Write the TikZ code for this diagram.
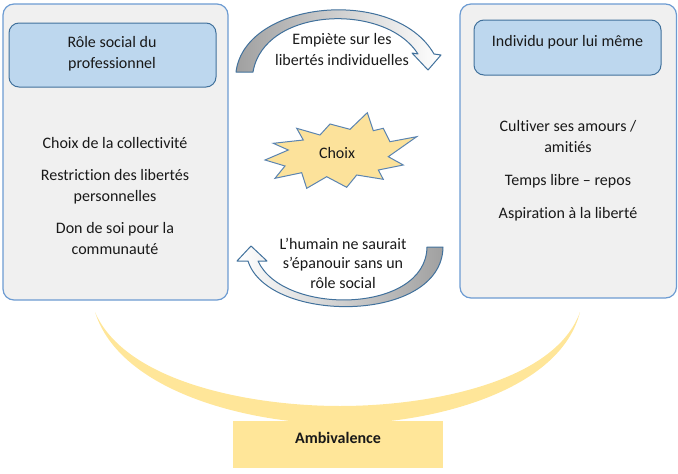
\documentclass[tikz,border=0pt]{standalone}
\usepackage{fontspec}
\setmainfont{Carlito}[Ligatures=NoCommon]
\usetikzlibrary{calc}
\definecolor{boxfill}{HTML}{F0F0F0}
\definecolor{boxdraw}{HTML}{6C9BD2}
\definecolor{headfill}{HTML}{BDD7EE}
\definecolor{headdraw}{HTML}{41719C}
\definecolor{arrdraw}{HTML}{41719C}
\definecolor{arrgray}{HTML}{A0A0A0}
\definecolor{starfill}{HTML}{FCE29B}
\definecolor{stardraw}{HTML}{5B84B1}
\definecolor{ambyellow}{HTML}{FFE699}
\tikzset{
  txt/.style={font=\fontsize{16}{21}\selectfont, align=center, inner sep=0pt, text=black!90},
  outerbox/.style={draw=boxdraw, fill=boxfill, line width=1.2pt, rounded corners=11pt},
  headbox/.style={draw=headdraw, fill=headfill, line width=1pt, rounded corners=10pt},
  curvarrow/.style={draw=arrdraw, line width=1pt, line join=round},
}
\begin{document}
\begin{tikzpicture}[x=1pt,y=-1pt]
\useasboundingbox (0,0) rectangle (678,474);
% outer boxes
\draw[outerbox] (3,4) rectangle (228,300);
\draw[outerbox] (460,4) rectangle (676.5,298);
% headers
\draw[headbox] (9,23) rectangle (216,87);
\draw[headbox] (474,20) rectangle (661,75);
\node[txt] (hleft) at (112,54) {Rôle social du\\professionnel};
\node[txt] (hright) at (567.5,42) {Individu pour lui même};
% body texts
\node[txt] (bleft) at (115,196) {Choix de la collectivité\\[11pt]Restriction des libertés\\personnelles\\[11pt]Don de soi pour la\\communauté};
\node[txt] (bright) at (568,171) {Cultiver ses amours /\\amitiés\\[12pt]Temps libre – repos\\[12pt]Aspiration à la liberté};
% top curved arrow
\draw[curvarrow, left color=arrgray, right color=white]
  (236,72) .. controls (245,0) and (395,-14) .. (434,54)
  -- (441,55) -- (428,70) -- (412,53) -- (418,54)
  .. controls (385,2) and (264,7) .. (253,72) -- cycle;
\node[txt] (ttop) at (342,50) {Empiète sur les\\libertés individuelles};
% bottom curved arrow
\draw[curvarrow, right color=arrgray, left color=white]
  (443,247) .. controls (442,324) and (268,324) .. (248,261)
  -- (237,261) -- (251,246) -- (267,261) -- (258,261)
  .. controls (283,316) and (426,314) .. (427,247) -- cycle;
\node[txt, font=\fontsize{16}{19.5}\selectfont] (tbot) at (343,263) {L’humain ne saurait\\s’épanouir sans un\\rôle social};
% star
\draw[draw=stardraw, fill=starfill, line width=1pt, line join=miter]
  (367.3,112.7) -- (350,129.3) -- (330,124) -- (320,135) -- (296.7,128.3)
  -- (303.3,140) -- (273.3,143.3) -- (288.3,150) -- (265,160) -- (285,166)
  -- (275,178.3) -- (301.7,172.7) -- (306.7,188.3) -- (326.7,176.7)
  -- (346.7,187.3) -- (356.7,175) -- (383.3,179.3) -- (378.3,170)
  -- (403.3,165) -- (388.3,156.7) -- (416.7,136.7) -- (390,141.7)
  -- (383.3,128.3) -- (373.3,130.7) -- cycle;
\node[txt] (choix) at (337,153) {Choix};
% crescent
\fill[ambyellow]
  (95,312) .. controls (120,392) and (250,424) .. (340,424)
  .. controls (430,424) and (560,392) .. (580,312)
  .. controls (555,382) and (430,406) .. (340,406)
  .. controls (250,406) and (125,382) .. (95,312) -- cycle;
% ambivalence box
\fill[ambyellow] (233,421) rectangle (443,468);
\node[txt, font=\fontsize{16}{21}\selectfont\bfseries] (amb) at (338,438) {Ambivalence};
\end{tikzpicture}
\end{document}
